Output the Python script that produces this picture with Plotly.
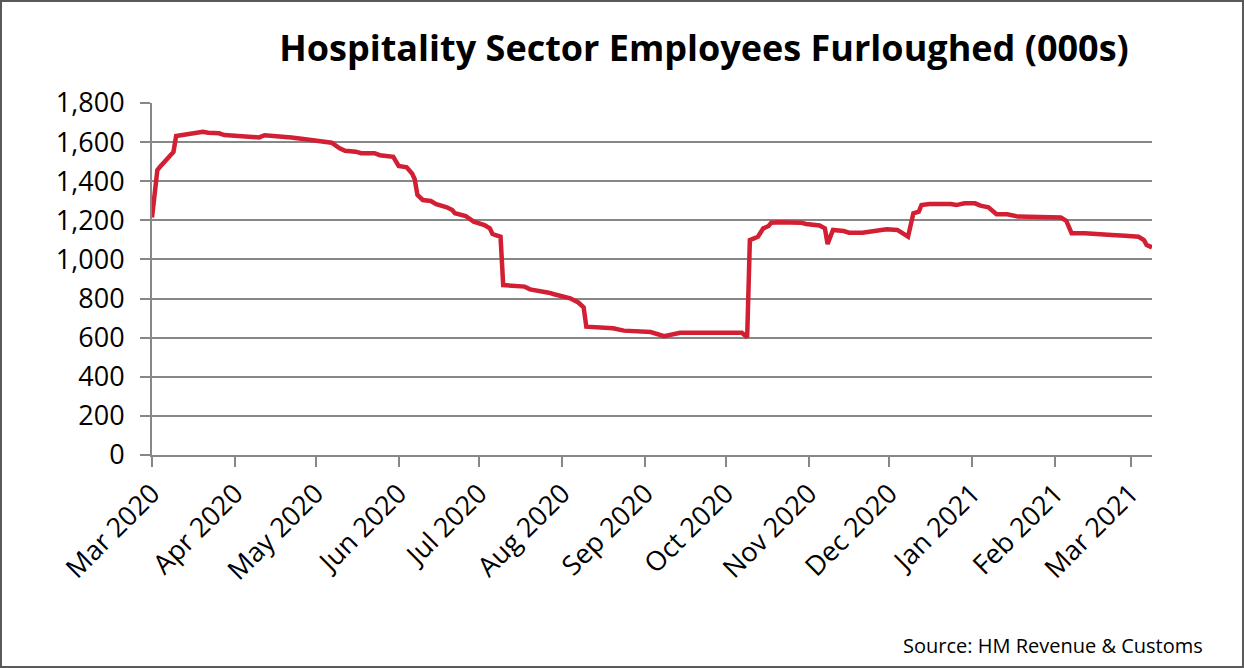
import plotly.graph_objects as go

# ---- data ----
dates = [
    "2020-03-01", "2020-03-03", "2020-03-04", "2020-03-06", "2020-03-08", "2020-03-09",
    "2020-03-10", "2020-03-12", "2020-03-15", "2020-03-17", "2020-03-20", "2020-03-22",
    "2020-03-26", "2020-03-28", "2020-04-03", "2020-04-10", "2020-04-12", "2020-04-18",
    "2020-04-22", "2020-04-25", "2020-04-30", "2020-05-03", "2020-05-07", "2020-05-10",
    "2020-05-12", "2020-05-16", "2020-05-18", "2020-05-23", "2020-05-25", "2020-05-30",
    "2020-05-31", "2020-06-01", "2020-06-04", "2020-06-06", "2020-06-07", "2020-06-08",
    "2020-06-10", "2020-06-13", "2020-06-15", "2020-06-19", "2020-06-21", "2020-06-22",
    "2020-06-26", "2020-06-29", "2020-07-03", "2020-07-05", "2020-07-06", "2020-07-09",
    "2020-07-10", "2020-07-14", "2020-07-18", "2020-07-20", "2020-07-24", "2020-07-27",
    "2020-07-29", "2020-07-31", "2020-08-04", "2020-08-07", "2020-08-09", "2020-08-10",
    "2020-08-15", "2020-08-20", "2020-08-24", "2020-08-30", "2020-09-03", "2020-09-08",
    "2020-09-11", "2020-09-14", "2020-10-07", "2020-10-09", "2020-10-10", "2020-10-12",
    "2020-10-13", "2020-10-15", "2020-10-17", "2020-10-18", "2020-10-21", "2020-10-29",
    "2020-10-31", "2020-11-05", "2020-11-07", "2020-11-08", "2020-11-10", "2020-11-14",
    "2020-11-16", "2020-11-21", "2020-11-26", "2020-11-30", "2020-12-04", "2020-12-08",
    "2020-12-10", "2020-12-12", "2020-12-13", "2020-12-16", "2020-12-24", "2020-12-26",
    "2020-12-29", "2021-01-02", "2021-01-04", "2021-01-07", "2021-01-10", "2021-01-14",
    "2021-01-18", "2021-01-25", "2021-01-28", "2021-02-03", "2021-02-05", "2021-02-07",
    "2021-02-12", "2021-02-16", "2021-02-22", "2021-02-27", "2021-03-04", "2021-03-06",
    "2021-03-07", "2021-03-09",
]
furloughed = [
    1215, 1457, 1474, 1508, 1534, 1550,
    1631, 1636, 1641, 1650, 1653, 1648,
    1645, 1636, 1633, 1624, 1635, 1631,
    1624, 1619, 1611, 1602, 1597, 1568,
    1556, 1551, 1543, 1543, 1533, 1525,
    1505, 1478, 1471, 1440, 1410, 1330,
    1304, 1299, 1283, 1267, 1253, 1236,
    1222, 1193, 1176, 1159, 1130, 1116,
    869, 864, 861, 847, 840, 830,
    822, 815, 801, 780, 755, 656,
    653, 648, 636, 631, 629, 608,
    614, 625, 625, 602, 1099, 1111,
    1116, 1159, 1171, 1188, 1190, 1188,
    1181, 1174, 1159, 1079, 1151, 1145,
    1137, 1137, 1145, 1154, 1151, 1116,
    1236, 1244, 1278, 1283, 1283, 1278,
    1287, 1287, 1275, 1267, 1231, 1231,
    1219, 1219, 1214, 1214, 1198, 1134,
    1134, 1129, 1125, 1121, 1116, 1099,
    1074, 1062,
]
tick_dates = [
    "2020-03-01", "2020-04-01", "2020-05-01", "2020-06-01", "2020-07-01", "2020-08-01",
    "2020-09-01", "2020-10-01", "2020-11-01", "2020-12-01", "2021-01-01", "2021-02-01",
    "2021-03-01",
]
tick_labels = [
    "Mar 2020", "Apr 2020", "May 2020", "Jun 2020", "Jul 2020", "Aug 2020",
    "Sep 2020", "Oct 2020", "Nov 2020", "Dec 2020", "Jan 2021", "Feb 2021",
    "Mar 2021",
]
y_ticks = [0, 200, 400, 600, 800, 1000, 1200, 1400, 1600, 1800]

FONT = "Open Sans"
W, H = 1244, 668
L, R, T, B = 152, 92, 103, 213
PW, PH = W - L - R, H - T - B

fig = go.Figure()
fig.add_trace(go.Scatter(
    x=dates, y=furloughed, mode="lines",
    line=dict(color="#D21F33", width=4.5),
    hoverinfo="x+y", showlegend=False,
))

fig.update_layout(
    width=W, height=H, autosize=False,
    margin=dict(l=L, r=R, t=T, b=B, pad=0),
    paper_bgcolor="white", plot_bgcolor="white",
    font=dict(family=FONT, color="black", size=24),
    title=dict(
        text="<b>Hospitality Sector Employees Furloughed (000s)</b>",
        x=704 / W, xanchor="center", y=1 - 48 / H, yanchor="middle",
        font=dict(family=FONT, size=36, color="black"),
    ),
    xaxis=dict(
        type="date", range=["2020-03-01", "2021-03-09"],
        tickmode="array", tickvals=tick_dates, ticktext=tick_labels,
        tickangle=-45, ticks="outside", ticklen=10, tickwidth=2, tickcolor="#878787",
        showline=True, linecolor="#878787", linewidth=2,
        showgrid=False, zeroline=False,
        tickfont=dict(family=FONT, size=27, color="black"),
    ),
    yaxis=dict(
        range=[0, 1800], tickmode="array", tickvals=y_ticks,
        tickformat=",", ticks="outside", ticklen=10, tickwidth=2, tickcolor="#878787",
        ticklabelstandoff=10,
        showline=True, linecolor="#878787", linewidth=2,
        showgrid=True, gridcolor="#878787", gridwidth=2,
        zeroline=False,
        tickfont=dict(family=FONT, size=27, color="black"),
    ),
    annotations=[dict(
        text="Source: HM Revenue & Customs", xref="paper", yref="paper",
        x=(1205 - L) / PW, y=(455 - 645) / PH, xanchor="right", yanchor="middle",
        showarrow=False, font=dict(family=FONT, size=20, color="black"),
    )],
    shapes=[dict(
        type="rect", xref="paper", yref="paper", layer="above",
        x0=-(L - 1) / PW, x1=(W - L - 1) / PW,
        y0=-(B - 1) / PH, y1=(H - B - 1) / PH,
        line=dict(color="#595959", width=2), fillcolor="rgba(0,0,0,0)",
    )],
)

fig.write_html(
    "out.html",
    config={"displayModeBar": False},
    post_script="document.body.style.margin='0';document.body.style.overflow='hidden';",
)
